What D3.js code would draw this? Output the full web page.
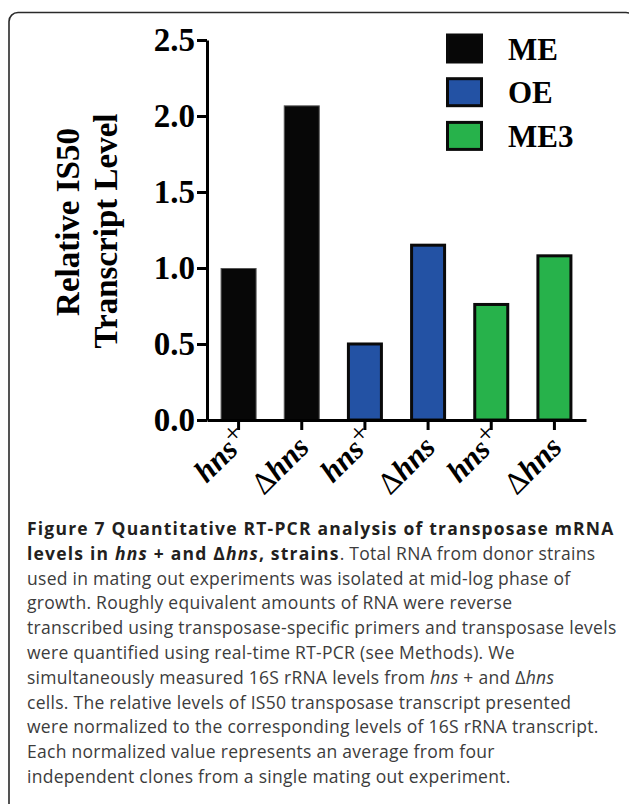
<!DOCTYPE html>
<html><head><meta charset="utf-8">
<script src="https://cdn.jsdelivr.net/npm/d3@7"></script>
<style>html,body{margin:0;padding:0;background:#fff;} svg{display:block}</style>
</head><body>
<svg id="c" width="629" height="804"></svg>
<script>
// ---- data ----
const groups = ["ME", "OE", "ME3"];
const categories = ["ME hns+", "ME Δhns", "OE hns+", "OE Δhns", "ME3 hns+", "ME3 Δhns"];
const barGroup = ["ME", "ME", "OE", "OE", "ME3", "ME3"];
const strainLabel = ["hns+", "Δhns", "hns+", "Δhns", "hns+", "Δhns"];
const values = [1.00, 2.07, 0.51, 1.16, 0.77, 1.09];
const yTicks = [0, 0.5, 1.0, 1.5, 2.0, 2.5];
const yTitle = ["Relative IS50", "Transcript Level"];
const colors = { ME: "#070707", OE: "#2352a4", ME3: "#27b24b" };

const caption = [
  [{t: "Figure 7 Quantitative RT-PCR analysis of transposase mRNA", b: 1}],
  [{t: "levels in ", b: 1}, {t: "hns", b: 1, i: 1}, {t: " + and Δ", b: 1}, {t: "hns", b: 1, i: 1}, {t: ", strains", b: 1}, {t: ". Total RNA from donor strains"}],
  [{t: "used in mating out experiments was isolated at mid-log phase of"}],
  [{t: "growth. Roughly equivalent amounts of RNA were reverse"}],
  [{t: "transcribed using transposase-specific primers and transposase levels"}],
  [{t: "were quantified using real-time RT-PCR (see Methods). We"}],
  [{t: "simultaneously measured 16S rRNA levels from "}, {t: "hns", i: 1}, {t: " + and Δ"}, {t: "hns", i: 1}],
  [{t: "cells. The relative levels of IS50 transposase transcript presented"}],
  [{t: "were normalized to the corresponding levels of 16S rRNA transcript."}],
  [{t: "Each normalized value represents an average from four"}],
  [{t: "independent clones from a single mating out experiment."}]
];

// ---- layout ----
const svg = d3.select("#c");
const serif = "'Liberation Serif','Times New Roman',serif";

svg.append("rect").attr("x", 9).attr("y", 12.5).attr("width", 626).attr("height", 900)
  .attr("rx", 9).attr("fill", "none").attr("stroke", "#2a2a2a").attr("stroke-width", 1.6);

const x = d3.scaleBand().domain(categories).range([207, 586]).paddingInner(0.43).paddingOuter(0.215);
const y = d3.scaleLinear().domain([0, 2.5]).range([420, 40]);

// bars
svg.append("g").selectAll("rect").data(categories).join("rect")
  .attr("x", (d, i) => x(d) + (barGroup[i] === "ME" ? 0.5 : 1.5))
  .attr("y", (d, i) => y(values[i]) + (barGroup[i] === "ME" ? 0.5 : 1.5))
  .attr("width", (d, i) => x.bandwidth() - (barGroup[i] === "ME" ? 1 : 3))
  .attr("height", (d, i) => y(0) - y(values[i]) - (barGroup[i] === "ME" ? 0.5 : 1.5))
  .attr("fill", (d, i) => colors[barGroup[i]])
  .attr("stroke", (d, i) => barGroup[i] === "ME" ? "#555" : "#0a0a0a")
  .attr("stroke-width", (d, i) => barGroup[i] === "ME" ? 1 : 3);

// y axis
const yAxis = svg.append("g").attr("transform", "translate(207,0)")
  .call(d3.axisLeft(y).tickValues(yTicks).tickFormat(d3.format(".1f")).tickSize(10).tickSizeOuter(0).tickPadding(2));
yAxis.select(".domain").attr("stroke", "#000").attr("stroke-width", 3);
yAxis.selectAll(".tick line").attr("stroke", "#000").attr("stroke-width", 3);
yAxis.selectAll(".tick text").attr("font-family", serif).attr("font-weight", "bold")
  .attr("font-size", 33).attr("fill", "#000").attr("dy", "0.33em");

// x axis
const xAxis = svg.append("g").attr("transform", "translate(0,420)")
  .call(d3.axisBottom(x).tickSize(10).tickSizeOuter(0));
xAxis.select(".domain").attr("stroke", "#000").attr("stroke-width", 3);
xAxis.selectAll(".tick line").attr("stroke", "#000").attr("stroke-width", 3);
xAxis.selectAll(".tick text").remove();
xAxis.selectAll(".tick").each(function(d, i) {
  const lab = strainLabel[i];
  const plus = !lab.startsWith("Δ");
  const t = d3.select(this).append("text")
    .attr("text-anchor", "end")
    .attr("transform", plus ? "translate(12,20) rotate(-45)" : "translate(9,29) rotate(-45)")
    .attr("font-family", serif).attr("font-size", 31).attr("fill", "#000");
  if (!plus) {
    t.append("tspan").attr("font-weight", "normal").text("Δ");
    t.append("tspan").attr("font-weight", "bold").attr("font-style", "italic").text("hns");
  } else {
    t.append("tspan").attr("font-weight", "bold").attr("font-style", "italic").text("hns");
    t.append("tspan").attr("font-weight", "normal").attr("font-size", 28).attr("dy", "-0.3em").text("+");
  }
});

// y title
yTitle.forEach((s, i) => {
  svg.append("text")
    .attr("transform", `translate(${[79, 117][i]},${[222, 231][i]}) rotate(-90)`)
    .attr("text-anchor", "middle")
    .attr("font-family", serif).attr("font-weight", "bold").attr("font-size", 33)
    .attr("fill", "#000").text(s);
});

// legend
const leg = svg.append("g");
groups.forEach((g, i) => {
  const y0 = 33.5 + i * 43.7;
  leg.append("rect").attr("x", 447.5).attr("y", y0 + 1.5).attr("width", 34).attr("height", 27)
    .attr("fill", colors[g]).attr("stroke", "#0a0a0a").attr("stroke-width", 3);
  leg.append("text").attr("x", 508).attr("y", y0 + 26)
    .attr("font-family", serif).attr("font-weight", "bold").attr("font-size", 31)
    .attr("fill", "#000").text(g);
});

// caption
const cap = svg.append("g").attr("font-family", "'Open Sans','Noto Sans',sans-serif").attr("font-size", 17.5);
caption.forEach((line, li) => {
  const t = cap.append("text").attr("x", 27).attr("y", 535 + li * 24.8);
  line.forEach(seg => {
    t.append("tspan")
      .attr("font-weight", seg.b ? "bold" : "normal")
      .attr("font-style", seg.i ? "italic" : "normal")
      .attr("letter-spacing", seg.b ? 1.2 : 0.28)
      .attr("fill", seg.b ? "#231f20" : "#3c3c3c")
      .text(seg.t);
  });
});
</script>
</body></html>
